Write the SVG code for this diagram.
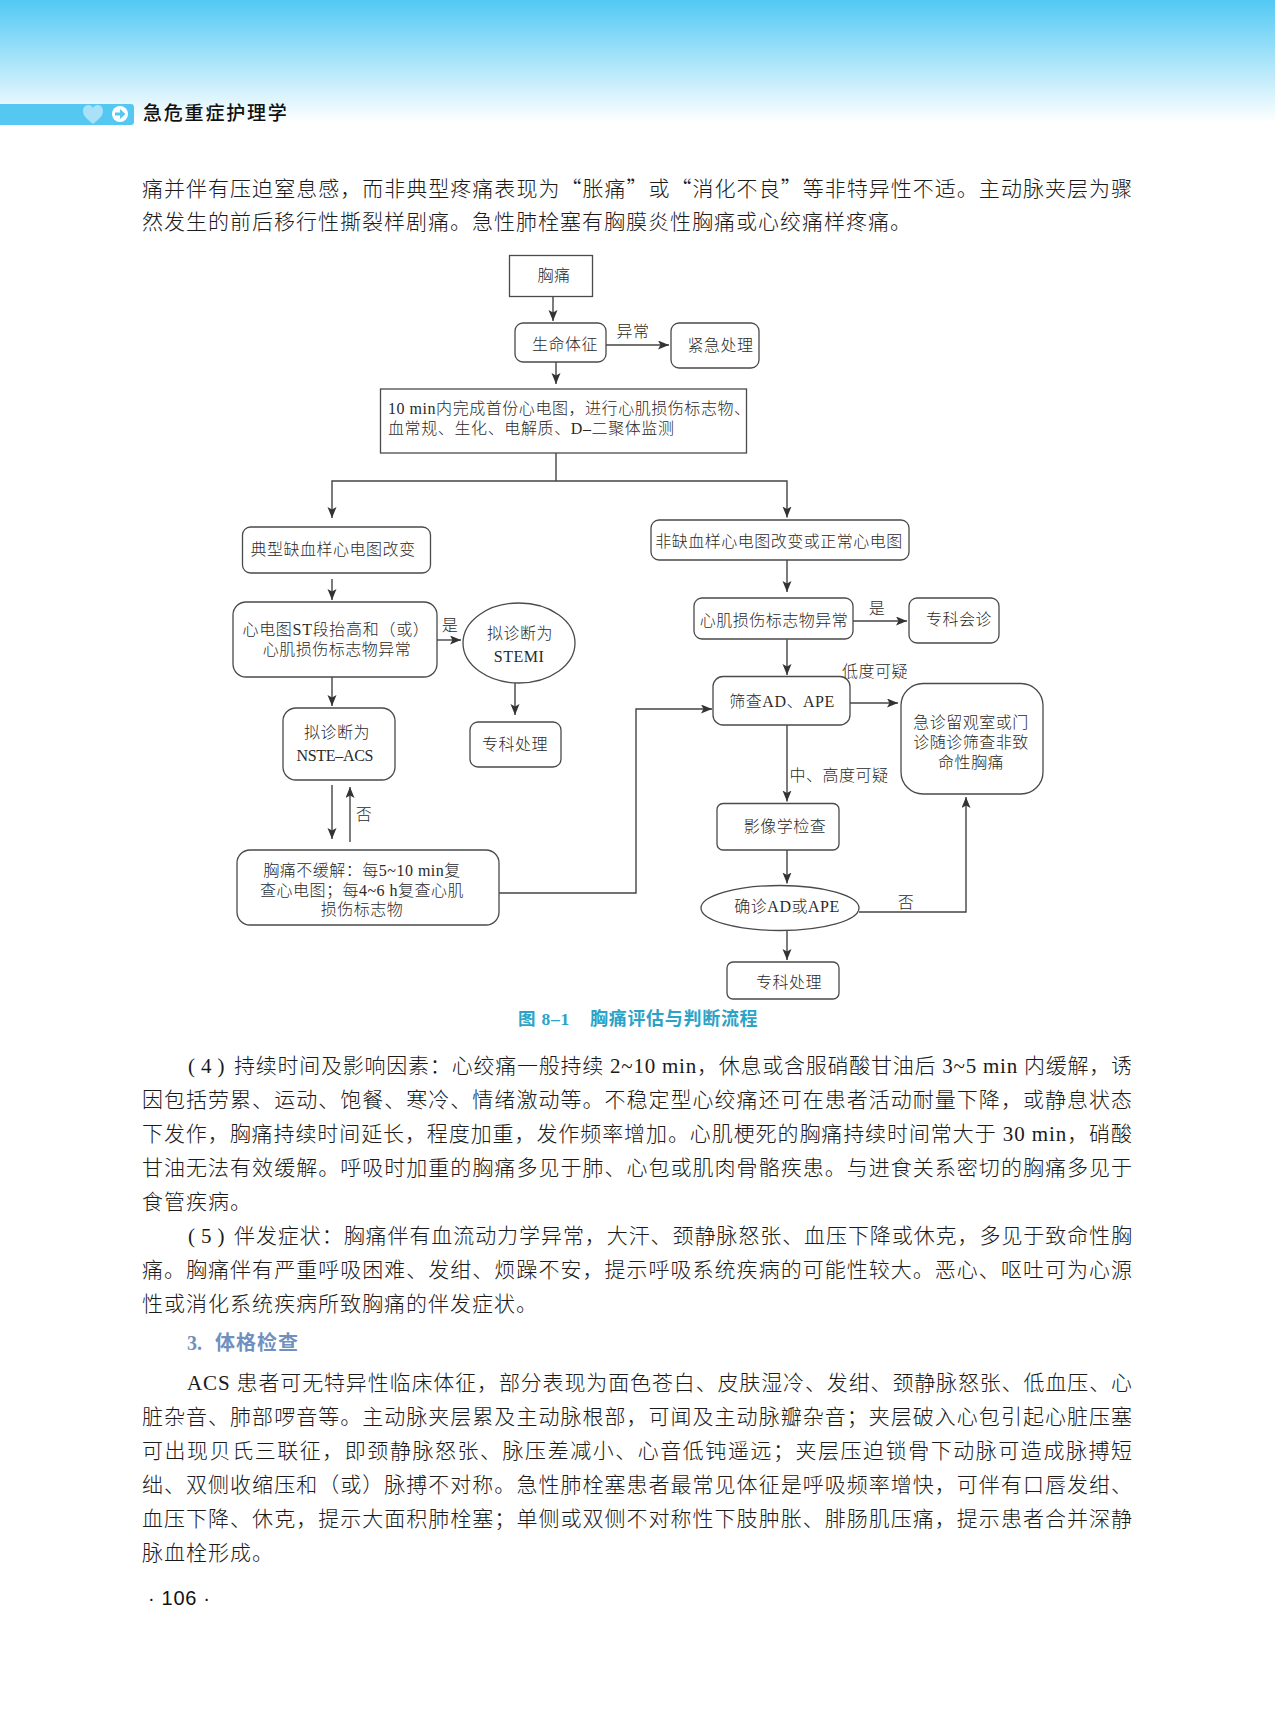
<svg xmlns="http://www.w3.org/2000/svg" width="1275" height="1718" viewBox="0 0 1275 1718">
<style>
text{font-family:"Liberation Serif","Noto Sans CJK SC",serif;fill:#2a2a2a}
.b{font-size:21px;font-weight:300;letter-spacing:1px;fill:#1a1a1a}
.p{font-size:21px;letter-spacing:6px;fill:#1a1a1a}
.q{font-family:"Noto Sans CJK SC",sans-serif}
.n{font-size:16px;font-weight:300;letter-spacing:.5px;text-anchor:middle}
.s{font-size:16px;font-weight:300}
.box{fill:none;stroke:#4a4a4a;stroke-width:1.3}
.c{fill:none;stroke:#444;stroke-width:1.4}
.a{marker-end:url(#arrow)}
</style>
<defs>
<linearGradient id="sky" x1="0" y1="0" x2="0" y2="1"><stop offset="0" stop-color="#52c9f4"/><stop offset="1" stop-color="#ffffff"/></linearGradient>
<marker id="arrow" markerUnits="userSpaceOnUse" markerWidth="12" markerHeight="10" refX="11" refY="4.5" orient="auto"><path d="M0,0L11,4.5L0,9L2.5,4.5z" fill="#333"/></marker>
</defs>
<rect width="1275" height="1718" fill="#fff"/>
<rect width="1275" height="122" fill="url(#sky)"/>
<path d="M0,104H131a3,3 0 0 1 3,3V122a3,3 0 0 1 -3,3H0z" fill="#55c8f2"/>
<path d="M93,124c-6,-5 -10,-8 -10,-13c0,-7 8,-8 10,-3c2,-5 10,-4 10,3c0,5 -4,8 -10,13z" fill="#a9e1f8"/>
<circle cx="120" cy="114" r="8" fill="#fff"/>
<path d="M115,112.500H120V109L125.500,114L120,119V115.500H115z" fill="#55c8f2"/>
<text x="143" y="120" style="font-size:19px;font-weight:500;letter-spacing:1.8px;fill:#111">急危重症护理学</text>

<g id="body-top">
<text class="b q" x="142" y="196" textLength="991">痛并伴有压迫窒息感，而非典型疼痛表现为“胀痛”或“消化不良”等非特异性不适。主动脉夹层为骤</text>
<text class="b" x="142" y="229">然发生的前后移行性撕裂样剧痛。急性肺栓塞有胸膜炎性胸痛或心绞痛样疼痛。</text>
</g>

<g id="connectors">
<path class="c a" d="M553,296V321"/>
<path class="c a" d="M556,362V384"/>
<path class="c a" d="M606,345H669"/>
<path class="c" d="M556,453V481"/>
<path class="c a" d="M556,481H332V518"/>
<path class="c a" d="M556,481H787V517.500"/>
<path class="c a" d="M332,579V600"/>
<path class="c a" d="M437,640H461"/>
<path class="c a" d="M332,677V706"/>
<path class="c a" d="M515,683V715"/>
<path class="c a" d="M332,785V839"/>
<path class="c a" d="M350,842V787"/>
<path class="c a" d="M499,893H636V709H712"/>
<path class="c a" d="M787,560V592"/>
<path class="c a" d="M853,621H907"/>
<path class="c a" d="M787,639.500V675"/>
<path class="c a" d="M850,703H898"/>
<path class="c a" d="M787,725V801.500"/>
<path class="c a" d="M787,850V883.500"/>
<path class="c a" d="M787,930.500V960"/>
<path class="c a" d="M859,912H966V797"/>
<text class="n" x="633" y="337">异常</text>
<text class="n" x="450" y="631">是</text>
<text class="n" x="364" y="820">否</text>
<text class="n" x="877" y="613.500">是</text>
<text class="n" x="875" y="676.500">低度可疑</text>
<text class="n" x="839" y="780.500">中、高度可疑</text>
<text class="n" x="906" y="907.500">否</text>
</g>

<g id="n-chest-pain"><rect class="box" x="509.500" y="255.500" width="83" height="41"/><text class="n" x="554" y="281">胸痛</text></g>
<g id="n-vitals"><rect class="box" x="515" y="323" width="91" height="39" rx="8"/><text class="n" x="565" y="350">生命体征</text></g>
<g id="n-emergency"><rect class="box" x="671" y="323" width="88" height="45" rx="8"/><text class="n" x="720.500" y="351">紧急处理</text></g>
<g id="n-ecg"><rect class="box" x="380.500" y="389" width="366" height="64"/>
<text class="s" x="388" y="414" textLength="362">10 min内完成首份心电图，进行心肌损伤标志物、</text>
<text class="s" x="388" y="434" textLength="286">血常规、生化、电解质、D–二聚体监测</text></g>
<g id="n-typical"><rect class="box" x="242.500" y="527" width="188" height="46" rx="8"/><text class="n" x="333" y="555">典型缺血样心电图改变</text></g>
<g id="n-st"><rect class="box" x="233" y="602" width="204" height="75" rx="13"/><text class="n" x="336" y="635" style="letter-spacing:.7px">心电图ST段抬高和（或）</text><text class="n" x="337" y="655">心肌损伤标志物异常</text></g>
<g id="n-stemi"><ellipse class="box" cx="519" cy="643" rx="56" ry="40"/><text class="n" x="520" y="639">拟诊断为</text><text class="n" x="519" y="662">STEMI</text></g>
<g id="n-specialist-left"><rect class="box" x="470" y="722" width="91" height="45" rx="8"/><text class="n" x="515" y="750">专科处理</text></g>
<g id="n-nste"><rect class="box" x="283" y="708" width="112" height="72" rx="13"/><text class="n" x="337" y="738">拟诊断为</text><text class="n" x="335" y="761" textLength="77" style="letter-spacing:0">NSTE–ACS</text></g>
<g id="n-recheck"><rect class="box" x="237" y="850" width="262" height="75" rx="13"/><text class="n" x="362" y="876">胸痛不缓解：每5~10 min复</text><text class="n" x="362" y="896">查心电图；每4~6 h复查心肌</text><text class="n" x="362" y="915">损伤标志物</text></g>
<g id="n-nonischemic"><rect class="box" x="651" y="520" width="258" height="40" rx="8"/><text class="n" x="779" y="547">非缺血样心电图改变或正常心电图</text></g>
<g id="n-marker"><rect class="box" x="694" y="598" width="159" height="41" rx="8"/><text class="n" x="774" y="626">心肌损伤标志物异常</text></g>
<g id="n-consult"><rect class="box" x="909" y="598" width="90" height="45" rx="8"/><text class="n" x="959" y="625">专科会诊</text></g>
<g id="n-screen"><rect class="box" x="713" y="676.500" width="137" height="48.500" rx="10"/><text class="n" x="782" y="707">筛查AD、APE</text></g>
<g id="n-observe"><rect class="box" x="901" y="683.500" width="142" height="110.500" rx="22"/><text class="n" x="971" y="727.500">急诊留观室或门</text><text class="n" x="971" y="747.500">诊随诊筛查非致</text><text class="n" x="971" y="767.500">命性胸痛</text></g>
<g id="n-imaging"><rect class="box" x="717" y="803.500" width="122" height="46.500" rx="6"/><text class="n" x="785" y="832">影像学检查</text></g>
<g id="n-confirm"><ellipse class="box" cx="780" cy="908" rx="79" ry="22.500"/><text class="n" x="787" y="912">确诊AD或APE</text></g>
<g id="n-specialist-right"><rect class="box" x="727" y="962" width="112" height="37" rx="6"/><text class="n" x="789" y="988">专科处理</text></g>

<g id="caption">
<text x="518" y="1025" style="font-size:17.500px;font-weight:700;fill:#2ba3c7;letter-spacing:.8px">图 8–1</text>
<text x="590" y="1025" style="font-size:18px;font-weight:700;fill:#2ba3c7;letter-spacing:.7px">胸痛评估与判断流程</text>
</g>

<g id="body-main">
<text class="p" x="188" y="1073">(4)</text>
<text class="b" x="234" y="1073" textLength="899">持续时间及影响因素：心绞痛一般持续 2~10 min，休息或含服硝酸甘油后 3~5 min 内缓解，诱</text>
<text class="b" x="142" y="1107" textLength="991">因包括劳累、运动、饱餐、寒冷、情绪激动等。不稳定型心绞痛还可在患者活动耐量下降，或静息状态</text>
<text class="b" x="142" y="1141" textLength="991">下发作，胸痛持续时间延长，程度加重，发作频率增加。心肌梗死的胸痛持续时间常大于 30 min，硝酸</text>
<text class="b" x="142" y="1175" textLength="991">甘油无法有效缓解。呼吸时加重的胸痛多见于肺、心包或肌肉骨骼疾患。与进食关系密切的胸痛多见于</text>
<text class="b" x="142" y="1209">食管疾病。</text>
<text class="p" x="188" y="1243">(5)</text>
<text class="b" x="234" y="1243" textLength="899">伴发症状：胸痛伴有血流动力学异常，大汗、颈静脉怒张、血压下降或休克，多见于致命性胸</text>
<text class="b" x="142" y="1277" textLength="991">痛。胸痛伴有严重呼吸困难、发绀、烦躁不安，提示呼吸系统疾病的可能性较大。恶心、呕吐可为心源</text>
<text class="b" x="142" y="1311">性或消化系统疾病所致胸痛的伴发症状。</text>
<text x="187" y="1350" style="font-size:20px;font-weight:700;fill:#7090c0">3.</text>
<text x="215" y="1350" style="font-size:20px;font-weight:700;fill:#7090c0;letter-spacing:1px">体格检查</text>
<text class="b" x="187" y="1390" textLength="946">ACS 患者可无特异性临床体征，部分表现为面色苍白、皮肤湿冷、发绀、颈静脉怒张、低血压、心</text>
<text class="b" x="142" y="1424" textLength="991">脏杂音、肺部啰音等。主动脉夹层累及主动脉根部，可闻及主动脉瓣杂音；夹层破入心包引起心脏压塞</text>
<text class="b" x="142" y="1458" textLength="991">可出现贝氏三联征，即颈静脉怒张、脉压差减小、心音低钝遥远；夹层压迫锁骨下动脉可造成脉搏短</text>
<text class="b" x="142" y="1492" textLength="991">绌、双侧收缩压和（或）脉搏不对称。急性肺栓塞患者最常见体征是呼吸频率增快，可伴有口唇发绀、</text>
<text class="b" x="142" y="1526" textLength="991">血压下降、休克，提示大面积肺栓塞；单侧或双侧不对称性下肢肿胀、腓肠肌压痛，提示患者合并深静</text>
<text class="b" x="142" y="1560">脉血栓形成。</text>
<text x="148" y="1605" style="font-family:'Liberation Sans',sans-serif;font-size:20px;fill:#111" textLength="62">· 106 ·</text>
</g>
</svg>
